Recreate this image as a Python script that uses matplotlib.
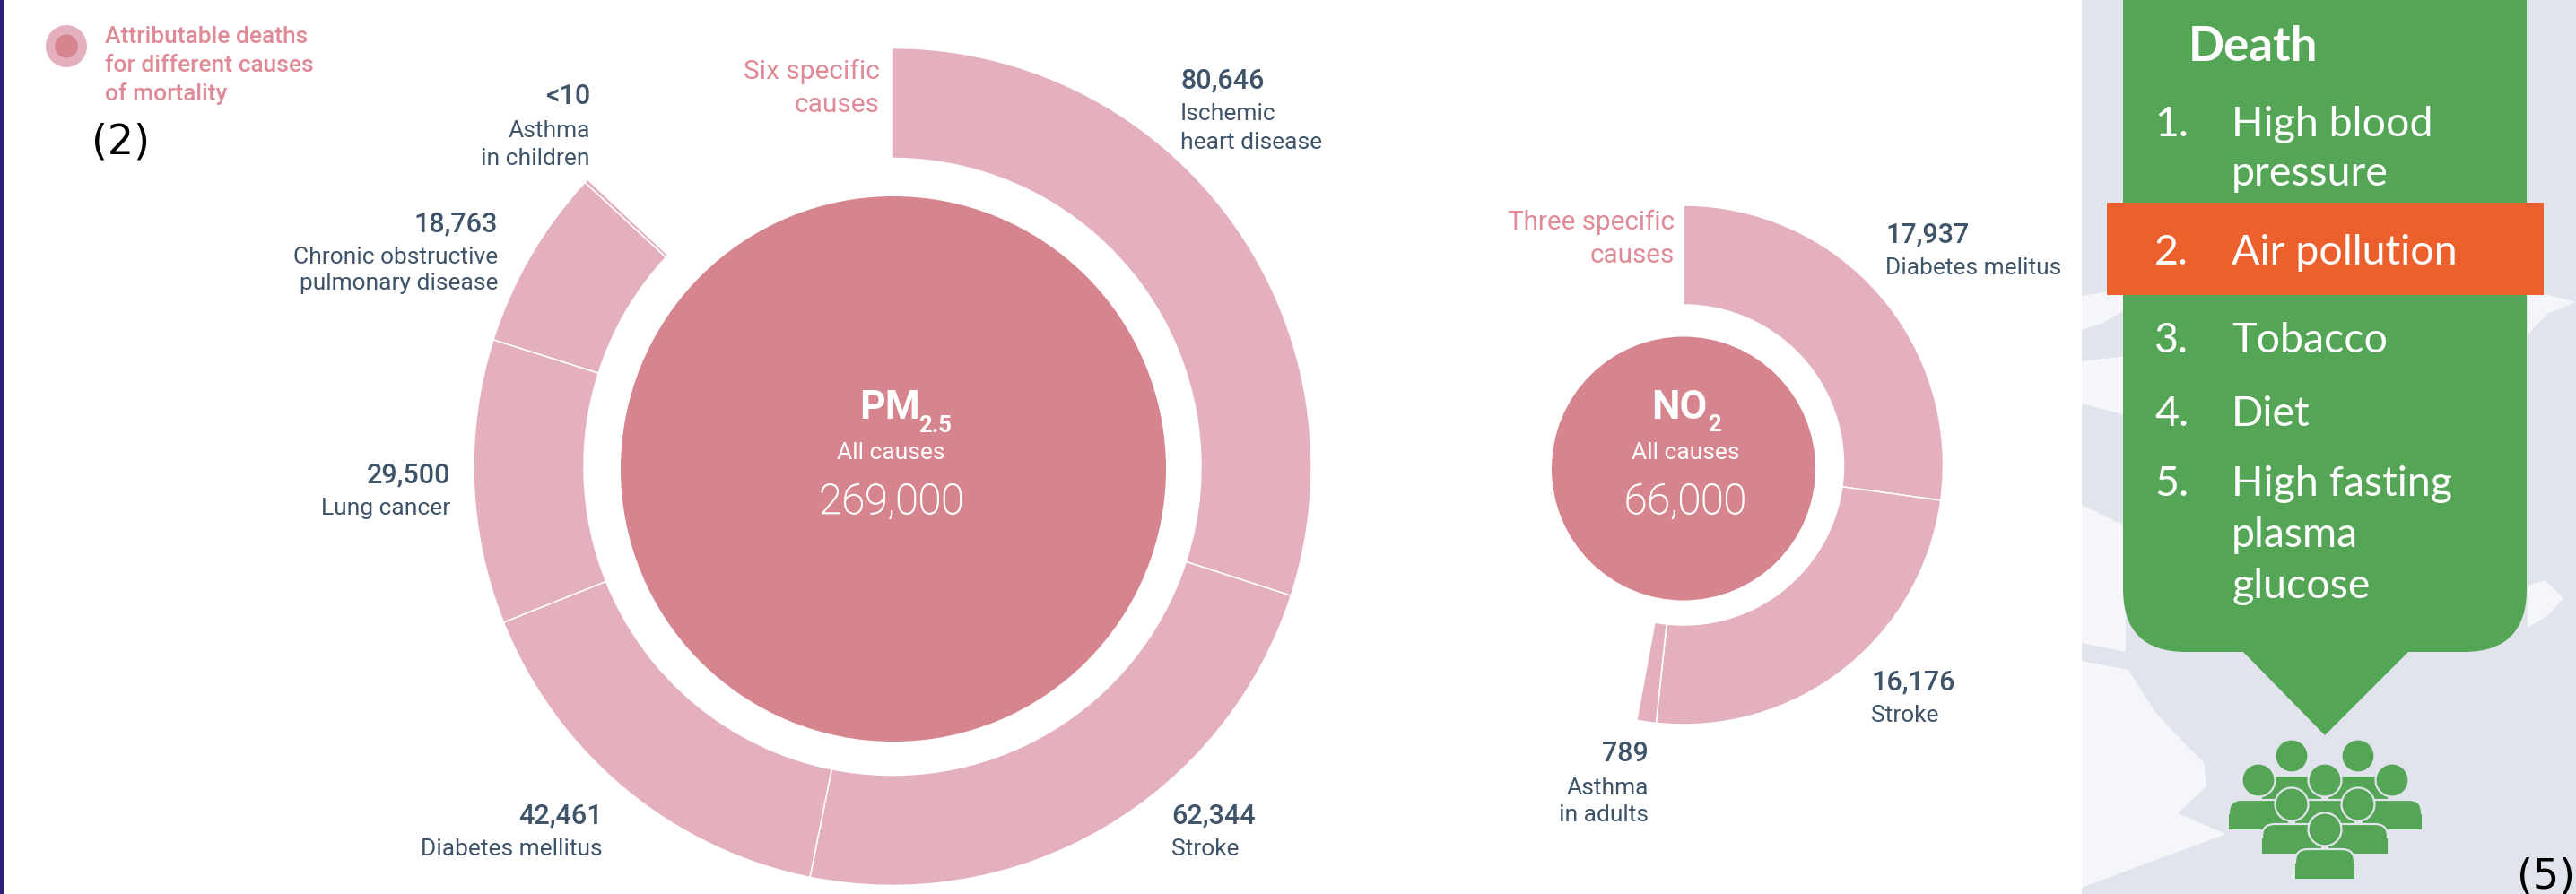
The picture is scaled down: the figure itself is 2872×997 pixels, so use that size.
import numpy as np
import matplotlib
matplotlib.use("Agg")
import matplotlib.pyplot as plt
import matplotlib.patheffects as pe
from matplotlib.patches import Circle, Ellipse, FancyBboxPatch, Polygon, Rectangle

# values
pm25_total = 269000
pm25_values = [80646, 62344, 42461, 29500, 18763, 10]
no2_total = 66000
no2_values = [17937, 16176, 789]
min_slice = 400  # "<10" would not show otherwise, the source draws a sliver

risk_numbers = ["1.", "2.", "3.", "4.", "5."]
risk_lines = [["High blood", "pressure"], ["Air pollution"], ["Tobacco"], ["Diet"], ["High fasting", "plasma", "glucose"]]

# colours
ring_color = "#E5B0BE"
core_color = "#D6848E"
dark_text = "#3F5469"
pink_text = "#DF8A96"
green = "#55A556"
orange = "#EC602D"
panel_bg = "#E1E4EC"
land = "#F5F6FA"

fig = plt.figure(figsize=(28.72, 9.97), dpi=100)
ax = fig.add_axes([0, 0, 1, 1])
thicker = [pe.withStroke(linewidth=0.6, foreground="white")]


def donut(center, r_out, r_in, values, total):
    # y axis is flipped below, so counterclock + -90 starts at the top and runs clockwise
    ax.pie(np.maximum(values, min_slice) / total, normalize=False, center=center, radius=r_out,
           startangle=-90, counterclock=True, colors=[ring_color],
           wedgeprops=dict(width=r_out - r_in, edgecolor="white", linewidth=1.1))


def label(x, y, number, lines, ha, dy):
    ax.text(x, y, number, ha=ha, va="baseline", fontsize=22, color=dark_text, family="Roboto", weight="medium")
    for i, line in enumerate(lines):
        ax.text(x, y + dy[i], line, ha=ha, va="baseline", fontsize=19, color=dark_text, family="Roboto")


donut((995, 520.5), 467, 344, pm25_values, pm25_total)
donut((1877, 518.5), 289.5, 178.5, no2_values, no2_total)
ax.add_patch(Circle((996, 523), 304, color=core_color, lw=0))
ax.add_patch(Circle((1877, 522.5), 147, color=core_color, lw=0))

# legend and panel tags
ax.add_patch(Ellipse((74, 51.5), 46, 47, color=ring_color, lw=0))
ax.add_patch(Ellipse((74, 51.5), 26, 26, color=core_color, lw=0))
for y, line in zip([48, 80, 112], ["Attributable deaths", "for different causes", "of mortality"]):
    ax.text(117, y, line, fontsize=19, color=pink_text, family="Roboto", weight="medium", va="baseline")
ax.text(102, 172, "(2)", fontsize=33, color="black", family="DejaVu Sans", va="baseline")
ax.add_patch(Rectangle((0, 0), 4, 997, color="#2E1F78", lw=0))

# pm2.5 labels
label(658, 116, "<10", ["Asthma", "in children"], "right", [37, 68])
label(555, 258, "18,763", ["Chronic obstructive", "pulmonary disease"], "right", [36, 65])
label(502, 538, "29,500", ["Lung cancer"], "right", [36])
label(672, 918, "42,461", ["Diabetes mellitus"], "right", [36])
label(1306, 918, "62,344", ["Stroke"], "left", [36])
label(1316, 98, "80,646", ["Ischemic", "heart disease"], "left", [36, 68])
ax.text(981, 88, "Six specific", ha="right", va="baseline", fontsize=21.5, color=pink_text, family="Roboto")
ax.text(981, 125, "causes", ha="right", va="baseline", fontsize=21.5, color=pink_text, family="Roboto")

ax.text(958, 467, "PM", fontsize=32, color="white", family="Roboto", weight="bold", va="baseline")
ax.text(1024, 482, "2.5", fontsize=18.5, color="white", family="Roboto", weight="bold", va="baseline")
ax.text(993, 512, "All causes", fontsize=19, color="white", family="Roboto", ha="center", va="baseline")
ax.text(994, 573, "269,000", fontsize=33.5, color="white", family="Roboto", weight="light", ha="center",
        va="baseline", path_effects=thicker)

# no2 labels
label(2102, 270, "17,937", ["Diabetes melitus"], "left", [36])
label(2086, 769, "16,176", ["Stroke"], "left", [36])
label(1838, 849, "789", ["Asthma", "in adults"], "right", [37, 67])
ax.text(1867, 256, "Three specific", ha="right", va="baseline", fontsize=21.3, color=pink_text, family="Roboto")
ax.text(1867, 293, "causes", ha="right", va="baseline", fontsize=21.3, color=pink_text, family="Roboto")

ax.text(1841, 467, "NO", fontsize=32, color="white", family="Roboto", weight="bold", va="baseline")
ax.text(1904, 481, "2", fontsize=18.5, color="white", family="Roboto", weight="bold", va="baseline")
ax.text(1879, 512, "All causes", fontsize=19, color="white", family="Roboto", ha="center", va="baseline")
ax.text(1879, 573, "66,000", fontsize=33.5, color="white", family="Roboto", weight="light", ha="center",
        va="baseline", path_effects=thicker)

# right hand panel with the map behind it
ax.add_patch(Rectangle((2321, 0), 551, 997, color=panel_bg, lw=0))
land_shapes = [
    [(2321, 403), (2370, 397), (2370, 463), (2321, 450)],
    [(2321, 330), (2370, 322), (2370, 345), (2345, 360), (2321, 368)],
    [(2321, 563), (2370, 587), (2370, 727), (2321, 717)],
    [(2321, 737), (2373, 747), (2402, 793), (2439, 833), (2457, 850), (2460, 877), (2428, 907),
     (2482, 930), (2428, 950), (2366, 973), (2321, 990)],
    [(2818, 653), (2837, 647), (2858, 667), (2840, 687), (2818, 700)],
    [(2818, 323), (2872, 337), (2840, 350), (2818, 373)],
]
for shape in land_shapes:
    ax.add_patch(Polygon(shape, color=land, lw=0))

ax.add_patch(FancyBboxPatch((2367, -200), 450, 927, boxstyle="round,pad=0,rounding_size=70", color=green, lw=0))
ax.add_patch(Polygon([(2499, 725), (2687, 725), (2592, 820)], color=green, lw=0))
ax.add_patch(Rectangle((2349, 226), 487, 103, color=orange, lw=0))

list_font = dict(fontsize=33.5, color="white", family="Lato", va="baseline")
ax.text(2440, 68, "Death", fontsize=38, color="white", family="Lato", weight="bold", va="baseline")
number_y = [152, 295, 393, 475, 553]
line_y = [[152, 207], [295], [393], [475], [553, 610, 667]]
for num, y, lines, ys in zip(risk_numbers, number_y, risk_lines, line_y):
    ax.text(2402, y, num, **list_font)
    for line, ly in zip(lines, ys):
        ax.text(2488, ly, line, **list_font)

# crowd icon, back row first so the outlines cut into the row behind
people = [(2555, 843), (2629, 843), (2518, 870), (2592, 870), (2667, 870), (2555, 897), (2629, 897), (2592, 925)]
for hx, hy in people:
    ax.add_patch(FancyBboxPatch((hx - 33, hy + 22), 66, 33, boxstyle="round,pad=0,rounding_size=14",
                                facecolor=green, edgecolor=panel_bg, lw=1.6))
    ax.add_patch(Rectangle((hx - 33, hy + 38), 66, 17, color=green, lw=0))  # square off the bottom
    ax.add_patch(Circle((hx, hy), 18.5, facecolor=green, edgecolor=panel_bg, lw=1.6))

ax.text(2871, 990, "(5)", fontsize=33, color="black", family="DejaVu Sans", ha="right", va="baseline")

ax.set_xlim(0, 2872)
ax.set_ylim(997, 0)
ax.set_aspect("auto")
ax.axis("off")

fig.savefig("out.png", dpi=100, facecolor="white")
